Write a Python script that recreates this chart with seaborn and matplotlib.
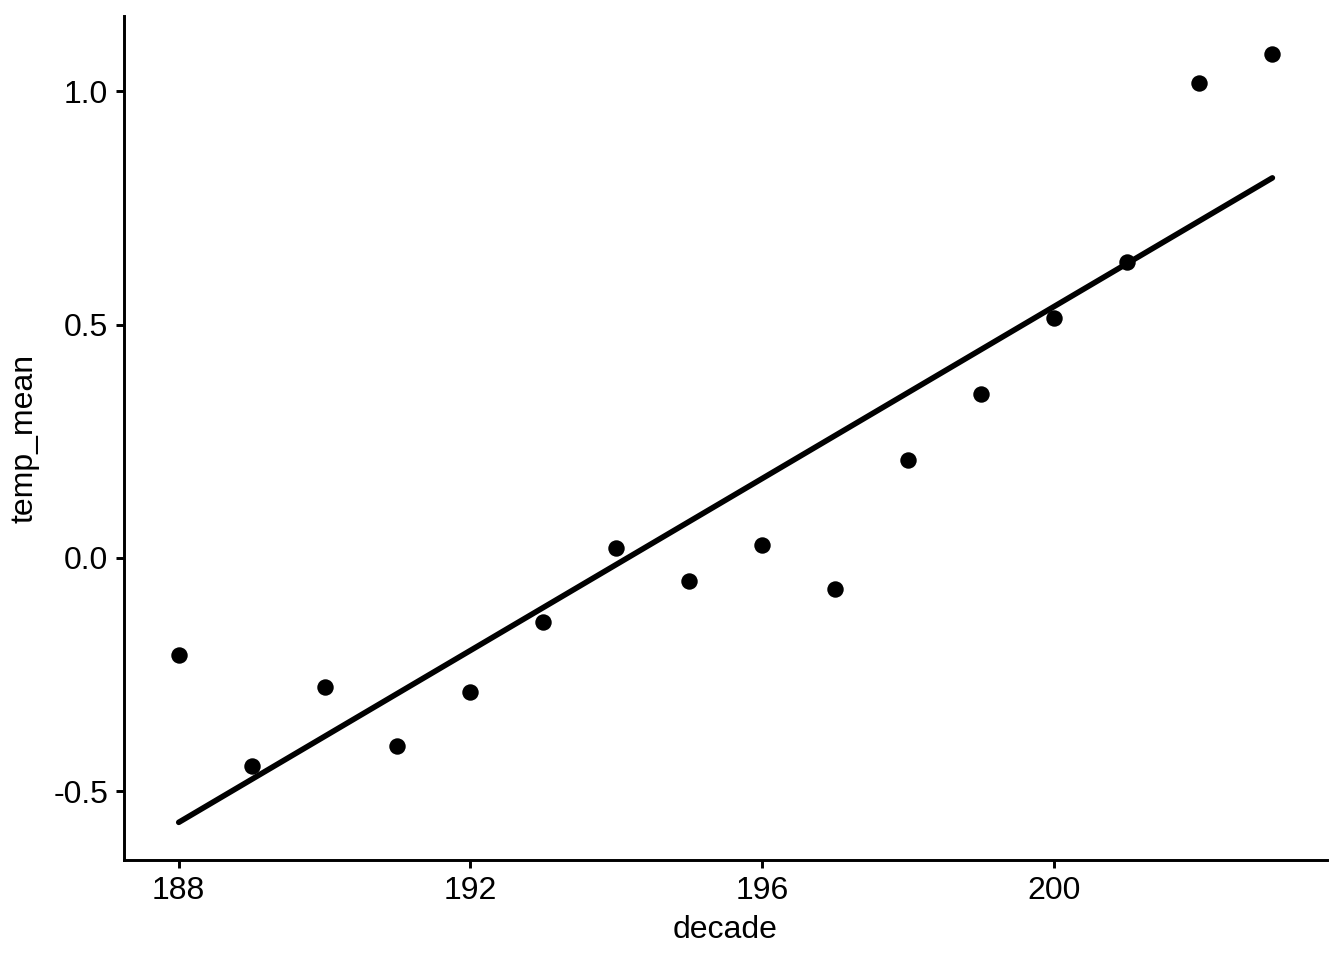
import pandas as pd
import seaborn as sns
import matplotlib.pyplot as plt

sns.set_style('white')
plt.rcParams['font.family'] = ['Liberation Sans', 'DejaVu Sans']

decade = [188, 189, 190, 191, 192, 193, 194, 195, 196, 197, 198, 199, 200, 201, 202, 203]
temp_mean = [-0.208, -0.445, -0.276, -0.403, -0.287, -0.137, 0.021, -0.049,
             0.028, -0.066, 0.210, 0.351, 0.514, 0.634, 1.017, 1.079]
xticks = [188, 192, 196, 200]
yticks = [-0.5, 0.0, 0.5, 1.0]

df = pd.DataFrame({'decade': decade, 'temp_mean': temp_mean})

fig = plt.figure(figsize=(7, 5), dpi=192)
ax = fig.add_axes([0.0923, 0.1042, 0.8951, 0.8791])

sns.regplot(data=df, x='decade', y='temp_mean', ax=ax, ci=None, color='black',
            scatter_kws={'s': 38, 'linewidths': 0, 'alpha': 1},
            line_kws={'lw': 2.1})

ax.set_xlim(187.25, 203.75)
ax.set_ylim(-0.647, 1.161)
ax.set_xticks(xticks)
ax.set_xticklabels([str(t) for t in xticks])
ax.set_yticks(yticks)
ax.set_yticklabels(['-0.5', '0.0', '0.5', '1.0'])
ax.tick_params(axis='both', length=3, width=1.1, color='black', labelsize=12,
               labelcolor='black', pad=3, direction='out', left=True, bottom=True)
sns.despine(ax=ax)
for side in ['left', 'bottom']:
    ax.spines[side].set_linewidth(1.1)
    ax.spines[side].set_color('black')
ax.set_xlabel('decade', fontsize=12, labelpad=3.5, color='black')
ax.set_ylabel('temp_mean', fontsize=12, labelpad=5, color='black')

fig.savefig('out.png', dpi=192)
